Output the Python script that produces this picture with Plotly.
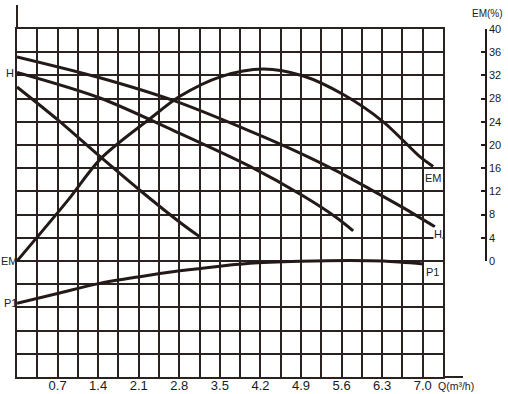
import plotly.graph_objects as go

# ---- data ----
q_ticks = [0.7, 1.4, 2.1, 2.8, 3.5, 4.2, 4.9, 5.6, 6.3, 7.0]
em_ticks = [0, 4, 8, 12, 16, 20, 24, 28, 32, 36, 40]

em_q = [0, 0.88, 1.45, 2.29, 2.81, 3.52, 4.25, 4.94, 5.63, 6.32, 6.95, 7.18]
em_v = [0, 10.5, 17.7, 24.5, 28.4, 31.8, 33.1, 31.9, 28.7, 24.0, 18.0, 16.3]

h1_q = [0, 1.43, 2.72, 4.02, 4.93, 5.52, 6.09, 6.66, 7.21]
h1_v = [35.2, 31.6, 27.6, 22.4, 18.4, 15.5, 12.4, 9.2, 5.9]

h2_q = [0, 1.43, 2.72, 4.02, 4.94, 5.51, 5.80]
h2_v = [32.5, 28.1, 22.4, 16.3, 11.2, 7.5, 5.2]

h3_q = [0, 0.72, 1.41, 2.12, 2.82, 3.15]
h3_v = [30.0, 24.2, 18.2, 12.2, 6.6, 4.2]

p1_q = [0, 0.7, 1.41, 2.12, 2.81, 3.5, 4.02, 4.88, 5.74, 6.32, 7.01]
p1_v = [-7.3, -5.6, -3.9, -2.7, -1.7, -0.9, -0.4, -0.05, 0.1, 0.0, -0.5]

INK = "#231a18"
GRID = "#2a2221"
FONT = "Liberation Sans, Arial, sans-serif"

W, H = 508, 394
ML, MR, MT, MB = 17, 22, 29, 17
PW = W - ML - MR
PH = H - MT - MB
XD = 426 / PW

fig = go.Figure()

line = dict(color=INK, width=3, shape="spline", smoothing=0.9)
for qs, vs in [(h1_q, h1_v), (h2_q, h2_v), (h3_q, h3_v), (p1_q, p1_v)]:
    fig.add_trace(go.Scatter(x=qs, y=vs, mode="lines", line=line,
                             xaxis="x", yaxis="y", showlegend=False, hoverinfo="skip"))
fig.add_trace(go.Scatter(x=em_q, y=em_v, mode="lines", line=line,
                         xaxis="x", yaxis="y2", showlegend=False, hoverinfo="skip"))

fig.update_layout(
    width=W, height=H,
    margin=dict(l=ML, r=MR, t=MT, b=MB, pad=0, autoexpand=False),
    paper_bgcolor="white", plot_bgcolor="rgba(0,0,0,0)",
    font=dict(family=FONT, color="#1a1a1a"),
    showlegend=False,
    xaxis=dict(
        domain=[0, XD], range=[0, 7.35], fixedrange=True, automargin=False,
        tickmode="array", tickvals=q_ticks, ticktext=[f"{v:.1f}" for v in q_ticks],
        ticks="", ticklabelstandoff=-5,
        tickfont=dict(size=13, family=FONT, color="#1a1a1a"),
        showgrid=True, gridcolor=GRID, gridwidth=2,
        minor=dict(tick0=0, dtick=0.35, showgrid=True, gridcolor=GRID, gridwidth=2),
        showline=True, linecolor=GRID, linewidth=2, mirror=True, zeroline=False,
    ),
    yaxis=dict(
        domain=[0, 1], range=[-20, 40], fixedrange=True, automargin=False,
        tick0=0, dtick=4, showticklabels=False, ticks="",
        showgrid=True, gridcolor=GRID, gridwidth=2,
        showline=True, linecolor=GRID, linewidth=2, mirror=True, zeroline=False,
    ),
    yaxis2=dict(
        domain=[1 / 3, 1], range=[0, 40], fixedrange=True, automargin=False,
        anchor="free", position=1, side="right",
        tickmode="array", tickvals=em_ticks,
        ticks="inside", ticklen=4, tickwidth=1.5, tickcolor=INK,
        tickfont=dict(size=11, family=FONT, color="#1a1a1a"),
        showgrid=False, zeroline=False,
        showline=True, linecolor=INK, linewidth=1.5,
    ),
)

# axis extensions (left axis above the grid, bottom axis to the right)
fig.add_shape(type="line", xref="paper", yref="paper", x0=0, x1=0, y0=1, y1=(H - MB - 5) / PH,
              line=dict(color=GRID, width=2))
fig.add_shape(type="line", xref="paper", yref="paper", x0=XD, x1=(463 - ML) / PW, y0=0, y1=0,
              line=dict(color=GRID, width=2))

lab = dict(size=11, family=FONT, color="#222")
# left labels
fig.add_annotation(x=(10 - ML) / PW, xref="paper", y=h2_v[0], yref="y", text="H",
                   showarrow=False, font=lab, xanchor="center", yanchor="middle")
fig.add_annotation(x=(9 - ML) / PW, xref="paper", y=em_v[0], yref="y2", text="EM",
                   showarrow=False, font=lab, xanchor="center", yanchor="middle")
fig.add_annotation(x=(10 - ML) / PW, xref="paper", y=p1_v[0], yref="y", text="P1",
                   showarrow=False, font=lab, xanchor="center", yanchor="middle")
# right labels at curve ends
fig.add_annotation(x=em_q[-1], xref="x", y=em_v[-1], yref="y2", text="EM",
                   showarrow=False, font=lab, xanchor="center", yanchor="top", yshift=-4)
fig.add_annotation(x=h1_q[-1], xref="x", y=h1_v[-1], yref="y", text="H",
                   showarrow=False, font=lab, xanchor="center", yanchor="top", xshift=3,
                   bgcolor="white", borderpad=0)
fig.add_annotation(x=p1_q[-1], xref="x", y=p1_v[-1], yref="y", text="P1",
                   showarrow=False, font=lab, xanchor="left", yanchor="top", xshift=1)
# axis titles
fig.add_annotation(x=(487.5 - ML) / PW, xref="paper", y=(H - MB - 13) / PH, yref="paper",
                   text="EM(%)", showarrow=False, font=dict(size=10, family=FONT, color="#1a1a1a"),
                   xanchor="center", yanchor="middle")
fig.add_annotation(x=(456 - ML) / PW, xref="paper", y=-(386 - (H - MB)) / PH, yref="paper",
                   text="Q(m³/h)", showarrow=False, font=dict(size=10.5, family=FONT, color="#1a1a1a"),
                   xanchor="center", yanchor="middle")

fig.write_html("out.html")
